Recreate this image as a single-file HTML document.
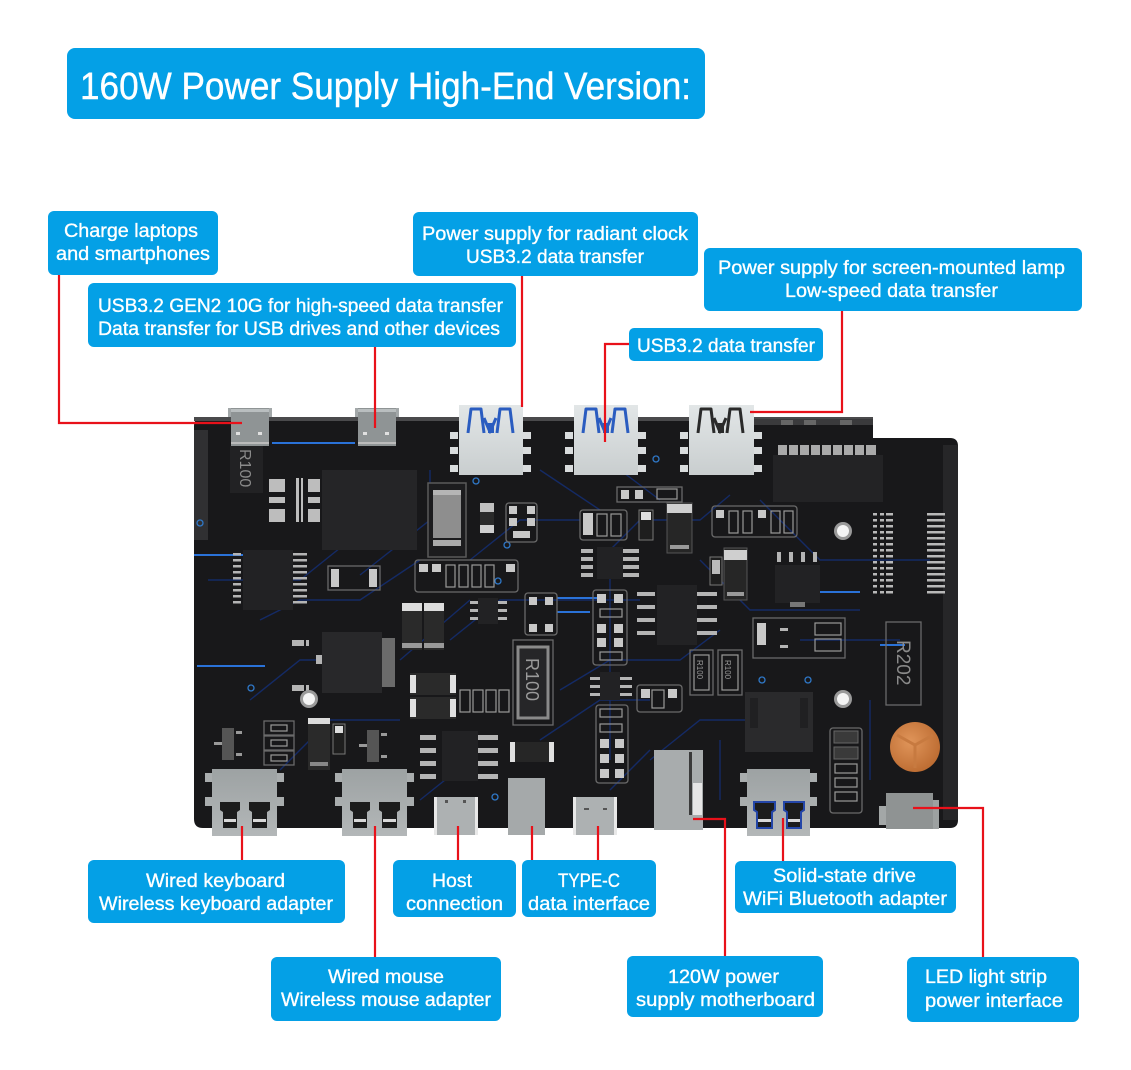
<!DOCTYPE html>
<html><head><meta charset="utf-8">
<style>html,body{margin:0;padding:0;background:#fff;}svg{display:block}</style>
</head>
<body>
<svg width="1131" height="1070" viewBox="0 0 1131 1070" xmlns="http://www.w3.org/2000/svg" font-family="'Liberation Sans', sans-serif">
<defs>
<linearGradient id="gport" x1="0" y1="0" x2="0" y2="1"><stop offset="0" stop-color="#b9bdbe"/><stop offset="1" stop-color="#969b9c"/></linearGradient>
<linearGradient id="gusba" x1="0" y1="0" x2="0" y2="1"><stop offset="0" stop-color="#e2e6e7"/><stop offset="1" stop-color="#c9cecf"/></linearGradient>
<linearGradient id="gc" x1="0" y1="0" x2="0" y2="1"><stop offset="0" stop-color="#9da2a3"/><stop offset="1" stop-color="#b3b7b8"/></linearGradient>
<radialGradient id="gcu" cx="0.4" cy="0.4" r="0.7"><stop offset="0" stop-color="#e0955a"/><stop offset="1" stop-color="#b9682e"/></radialGradient>
</defs>
<rect width="1131" height="1070" fill="#fff"/>

<!-- Title -->
<rect x="67" y="48" width="638" height="71" rx="8" fill="#04a0e6"/>
<text x="80" y="99" font-size="38" fill="#fff" stroke="#fff" stroke-width="0.4" textLength="611" lengthAdjust="spacingAndGlyphs">160W Power Supply High-End Version:</text>

<!-- ============ BOARD ============ -->
<path d="M194,426 Q194,417 203,417 L873,417 L873,438 L950,438 Q958,438 958,446 L958,820 Q958,828 950,828 L203,828 Q194,828 194,819 Z" fill="#18181a"/>
<rect x="194" y="430" width="14" height="110" fill="#303032"/>
<rect x="943" y="445" width="15" height="375" fill="#262628"/>
<rect x="194" y="417" width="679" height="4" fill="#4a4a4c"/>
<rect x="750" y="419" width="123" height="6" fill="#3a3a3c"/>
<rect x="230" y="446" width="33" height="47" fill="#222224"/>
<text transform="translate(240,449) rotate(90)" font-size="16" fill="#8a8a8a">R100</text>

<!-- blue traces -->
<g stroke="#142c6a" stroke-width="1.4" fill="none" opacity="0.95">
<path d="M208,580 L300,580 L340,548"/>
<path d="M260,620 L300,600 L360,600 L420,560"/>
<path d="M360,575 L430,520 L430,470"/>
<path d="M470,560 L520,520 L580,520"/>
<path d="M600,560 L640,520 L700,520 L730,495"/>
<path d="M560,600 L640,600"/>
<path d="M450,640 L500,600 L560,600"/>
<path d="M400,660 L470,600"/>
<path d="M560,690 L610,660 L680,660 L720,630"/>
<path d="M540,740 L600,700 L650,700"/>
<path d="M650,760 L700,720 L750,720"/>
<path d="M700,560 L750,610 L860,610"/>
<path d="M800,640 L900,640"/>
<path d="M760,500 L820,560 L930,560"/>
<path d="M620,470 L660,500"/>
<path d="M540,470 L600,510"/>
<path d="M280,770 L330,720 L400,720"/>
<path d="M420,800 L470,760"/>
<path d="M610,790 L650,750"/>
<path d="M870,700 L870,780"/>
<path d="M720,740 L720,800"/>
<path d="M250,700 L300,660 L330,660"/>
<path d="M610,560 L610,760"/>
</g>
<g stroke="#2a72d8" stroke-width="2" fill="none">
<path d="M272,443 L355,443"/>
<path d="M194,555 L245,555"/>
<path d="M197,666 L265,666"/>
<path d="M557,598 L600,598"/>
<path d="M557,612 L590,612"/>
<path d="M815,592 L860,592"/>
<path d="M880,645 L905,645"/>
</g>
<g fill="none" stroke="#2f78c8" stroke-width="1.3">
<circle cx="200" cy="523" r="3"/>
<circle cx="251" cy="688" r="3"/>
<circle cx="476" cy="481" r="3"/>
<circle cx="498" cy="581" r="3"/>
<circle cx="507" cy="545" r="3"/>
<circle cx="495" cy="797" r="3"/>
<circle cx="656" cy="459" r="3"/>
<circle cx="762" cy="680" r="3"/>
<circle cx="808" cy="680" r="3"/>
</g>

<!-- big dark parts -->
<rect x="322" y="470" width="95" height="80" fill="#252527"/>
<rect x="322" y="632" width="60" height="61" fill="#28282a"/>
<rect x="382" y="638" width="13" height="49" fill="#6b6b6b"/>
<rect x="773" y="455" width="110" height="47" fill="#232325"/>
<rect x="745" y="692" width="68" height="60" fill="#2a2a2c"/>
<rect x="750" y="698" width="8" height="30" fill="#202022"/>
<rect x="800" y="698" width="8" height="30" fill="#202022"/>

<g fill="#bdbdbd">
<rect x="269" y="479" width="16" height="13"/><rect x="269" y="497" width="16" height="6"/><rect x="269" y="509" width="16" height="13"/>
<rect x="296" y="478" width="3" height="44"/><rect x="301" y="478" width="2" height="44"/>
<rect x="308" y="479" width="12" height="13"/><rect x="308" y="497" width="12" height="6"/><rect x="308" y="509" width="12" height="13"/>
</g>

<rect x="428" y="483" width="38" height="74" fill="#1c1c1e" stroke="#5a5a5a" stroke-width="1.5"/>
<rect x="433" y="490" width="28" height="48" fill="#8e8e8e"/>
<rect x="433" y="490" width="28" height="5" fill="#b5b5b5"/>
<rect x="433" y="540" width="28" height="6" fill="#aaa"/>
<rect x="480" y="503" width="14" height="9" fill="#c0c0c0"/>
<rect x="480" y="512" width="14" height="13" fill="#2a2a2a"/>
<rect x="480" y="525" width="14" height="8" fill="#cfcfcf"/>

<g fill="none" stroke="#6a6a6a" stroke-width="1.3">
<rect x="506" y="503" width="31" height="39" rx="3"/>
<rect x="415" y="560" width="103" height="32" rx="3"/>
<rect x="328" y="566" width="52" height="24"/>
<rect x="525" y="593" width="32" height="42" rx="3"/>
<rect x="264" y="721" width="30" height="14"/><rect x="264" y="736" width="30" height="14"/><rect x="264" y="751" width="30" height="14"/>
<rect x="617" y="487" width="65" height="15"/>
<rect x="580" y="510" width="47" height="30" rx="3"/>
<rect x="712" y="506" width="85" height="31" rx="3"/>
<rect x="593" y="590" width="34" height="75" rx="3"/>
<rect x="596" y="705" width="32" height="78" rx="3"/>
<rect x="753" y="618" width="92" height="40"/>
<rect x="886" y="622" width="35" height="83"/>
<rect x="830" y="728" width="32" height="85" rx="3"/>
<rect x="637" y="685" width="45" height="27" rx="3"/>
<rect x="513" y="640" width="40" height="85"/>
<rect x="690" y="650" width="23" height="45"/><rect x="718" y="650" width="24" height="45"/>
</g>
<g fill="#c8c8c8">
<rect x="509" y="506" width="8" height="8"/><rect x="527" y="506" width="8" height="8"/>
<rect x="509" y="518" width="8" height="8"/><rect x="527" y="518" width="8" height="8"/>
<rect x="513" y="531" width="17" height="7"/>
<rect x="331" y="569" width="8" height="18"/><rect x="369" y="569" width="8" height="18"/>
<rect x="419" y="564" width="9" height="8"/><rect x="432" y="564" width="9" height="8"/><rect x="506" y="564" width="9" height="8"/>
<rect x="529" y="597" width="8" height="8"/><rect x="545" y="597" width="8" height="8"/>
<rect x="529" y="624" width="8" height="8"/><rect x="545" y="624" width="8" height="8"/>
<rect x="621" y="490" width="8" height="9"/><rect x="635" y="490" width="8" height="9"/>
<rect x="583" y="513" width="10" height="22"/>
<rect x="716" y="510" width="8" height="8"/><rect x="758" y="510" width="8" height="8"/>
<rect x="597" y="594" width="9" height="9"/><rect x="614" y="594" width="9" height="9"/>
<rect x="597" y="624" width="9" height="9"/><rect x="614" y="624" width="9" height="9"/>
<rect x="597" y="638" width="9" height="9"/><rect x="614" y="638" width="9" height="9"/>
<rect x="600" y="739" width="9" height="9"/><rect x="615" y="739" width="9" height="9"/>
<rect x="600" y="754" width="9" height="9"/><rect x="615" y="754" width="9" height="9"/>
<rect x="600" y="769" width="9" height="9"/><rect x="615" y="769" width="9" height="9"/>
<rect x="834" y="731" width="24" height="6"/><rect x="834" y="747" width="24" height="6"/>
<rect x="641" y="689" width="9" height="9"/><rect x="668" y="689" width="9" height="9"/>
<rect x="757" y="623" width="9" height="22"/>
</g>
<g fill="none" stroke="#9a9a9a" stroke-width="1.2">
<rect x="446" y="565" width="9" height="22"/><rect x="459" y="565" width="9" height="22"/><rect x="472" y="565" width="9" height="22"/><rect x="485" y="565" width="9" height="22"/>
<rect x="271" y="725" width="16" height="6"/><rect x="271" y="740" width="16" height="6"/><rect x="271" y="755" width="16" height="6"/>
<rect x="657" y="489" width="20" height="10"/>
<rect x="597" y="514" width="10" height="22"/><rect x="611" y="514" width="10" height="22"/>
<rect x="729" y="511" width="9" height="22"/><rect x="743" y="511" width="9" height="22"/><rect x="771" y="511" width="9" height="22"/><rect x="784" y="511" width="9" height="22"/>
<rect x="600" y="609" width="22" height="8"/><rect x="600" y="652" width="22" height="8"/>
<rect x="600" y="709" width="22" height="8"/><rect x="600" y="724" width="22" height="8"/>
<rect x="815" y="623" width="26" height="12"/><rect x="815" y="639" width="26" height="12"/>
<rect x="835" y="764" width="22" height="9"/><rect x="835" y="778" width="22" height="9"/><rect x="835" y="792" width="22" height="9"/>
<rect x="652" y="690" width="12" height="18"/>
<rect x="460" y="690" width="10" height="22"/><rect x="473" y="690" width="10" height="22"/><rect x="486" y="690" width="10" height="22"/><rect x="499" y="690" width="10" height="22"/>
<rect x="694" y="655" width="15" height="35"/><rect x="722" y="655" width="16" height="35"/>
</g>
<rect x="518" y="647" width="30" height="71" fill="#262628" stroke="#8a8a8a" stroke-width="3"/>
<text transform="translate(526,658) rotate(90)" font-size="18" fill="#9a9a9a">R100</text>
<text transform="translate(697,660) rotate(90)" font-size="8" fill="#999">R100</text>
<text transform="translate(725,660) rotate(90)" font-size="8" fill="#999">R100</text>
<text transform="translate(897,640) rotate(90)" font-size="19" fill="#8a8a8a">R202</text>

<g fill="#b4b4b4">
<rect x="233" y="553" width="8" height="2.5"/><rect x="233" y="559" width="8" height="2.5"/><rect x="233" y="565" width="8" height="2.5"/><rect x="233" y="571" width="8" height="2.5"/><rect x="233" y="577" width="8" height="2.5"/><rect x="233" y="583" width="8" height="2.5"/><rect x="233" y="589" width="8" height="2.5"/><rect x="233" y="595" width="8" height="2.5"/><rect x="233" y="601" width="8" height="2.5"/>
<rect x="293" y="553" width="14" height="2.5"/><rect x="293" y="559" width="14" height="2.5"/><rect x="293" y="565" width="14" height="2.5"/><rect x="293" y="571" width="14" height="2.5"/><rect x="293" y="577" width="14" height="2.5"/><rect x="293" y="583" width="14" height="2.5"/><rect x="293" y="589" width="14" height="2.5"/><rect x="293" y="595" width="14" height="2.5"/><rect x="293" y="601" width="14" height="2.5"/>
<rect x="292" y="640" width="12" height="6"/><rect x="306" y="640" width="3" height="6"/><rect x="292" y="685" width="12" height="6"/><rect x="306" y="685" width="3" height="6"/><rect x="316" y="655" width="6" height="9"/>
<rect x="420" y="735" width="16" height="5"/><rect x="420" y="748" width="16" height="5"/><rect x="420" y="761" width="16" height="5"/><rect x="420" y="774" width="16" height="5"/>
<rect x="478" y="735" width="20" height="5"/><rect x="478" y="748" width="20" height="5"/><rect x="478" y="761" width="20" height="5"/><rect x="478" y="774" width="20" height="5"/>
<rect x="470" y="601" width="8" height="3"/><rect x="470" y="609" width="8" height="3"/><rect x="470" y="617" width="8" height="3"/>
<rect x="497" y="601" width="10" height="3"/><rect x="497" y="609" width="10" height="3"/><rect x="497" y="617" width="10" height="3"/>
<rect x="581" y="549" width="12" height="4"/><rect x="581" y="557" width="12" height="4"/><rect x="581" y="565" width="12" height="4"/><rect x="581" y="573" width="12" height="4"/>
<rect x="623" y="549" width="16" height="4"/><rect x="623" y="557" width="16" height="4"/><rect x="623" y="565" width="16" height="4"/><rect x="623" y="573" width="16" height="4"/>
<rect x="637" y="592" width="18" height="4"/><rect x="637" y="605" width="18" height="4"/><rect x="637" y="618" width="18" height="4"/><rect x="637" y="631" width="18" height="4"/>
<rect x="697" y="592" width="20" height="4"/><rect x="697" y="605" width="20" height="4"/><rect x="697" y="618" width="20" height="4"/><rect x="697" y="631" width="20" height="4"/>
<rect x="590" y="677" width="10" height="3"/><rect x="590" y="685" width="10" height="3"/><rect x="590" y="693" width="10" height="3"/>
<rect x="620" y="677" width="12" height="3"/><rect x="620" y="685" width="12" height="3"/><rect x="620" y="693" width="12" height="3"/>
<rect x="777" y="552" width="4" height="10"/><rect x="789" y="552" width="4" height="10"/><rect x="801" y="552" width="4" height="10"/><rect x="813" y="552" width="4" height="10"/>
<rect x="780" y="628" width="8" height="3"/><rect x="780" y="645" width="8" height="3"/>
</g>
<g fill="#222224">
<rect x="243" y="550" width="50" height="60"/>
<rect x="442" y="731" width="36" height="50"/>
<rect x="478" y="598" width="20" height="26"/>
<rect x="597" y="547" width="26" height="32"/>
<rect x="657" y="585" width="40" height="60"/>
<rect x="775" y="565" width="45" height="38"/>
<rect x="600" y="672" width="20" height="28"/>
</g>
<g fill="#b8b8b8">
<rect x="873" y="513" width="4" height="2.5"/><rect x="880" y="513" width="4" height="2.5"/><rect x="886" y="513" width="7" height="2.5"/><rect x="927" y="513" width="18" height="2.5"/>
<rect x="873" y="519" width="4" height="2.5"/><rect x="880" y="519" width="4" height="2.5"/><rect x="886" y="519" width="7" height="2.5"/><rect x="927" y="519" width="18" height="2.5"/>
<rect x="873" y="525" width="4" height="2.5"/><rect x="880" y="525" width="4" height="2.5"/><rect x="886" y="525" width="7" height="2.5"/><rect x="927" y="525" width="18" height="2.5"/>
<rect x="873" y="531" width="4" height="2.5"/><rect x="880" y="531" width="4" height="2.5"/><rect x="886" y="531" width="7" height="2.5"/><rect x="927" y="531" width="18" height="2.5"/>
<rect x="873" y="537" width="4" height="2.5"/><rect x="880" y="537" width="4" height="2.5"/><rect x="886" y="537" width="7" height="2.5"/><rect x="927" y="537" width="18" height="2.5"/>
<rect x="873" y="543" width="4" height="2.5"/><rect x="880" y="543" width="4" height="2.5"/><rect x="886" y="543" width="7" height="2.5"/><rect x="927" y="543" width="18" height="2.5"/>
<rect x="873" y="549" width="4" height="2.5"/><rect x="880" y="549" width="4" height="2.5"/><rect x="886" y="549" width="7" height="2.5"/><rect x="927" y="549" width="18" height="2.5"/>
<rect x="873" y="555" width="4" height="2.5"/><rect x="880" y="555" width="4" height="2.5"/><rect x="886" y="555" width="7" height="2.5"/><rect x="927" y="555" width="18" height="2.5"/>
<rect x="873" y="561" width="4" height="2.5"/><rect x="880" y="561" width="4" height="2.5"/><rect x="886" y="561" width="7" height="2.5"/><rect x="927" y="561" width="18" height="2.5"/>
<rect x="873" y="567" width="4" height="2.5"/><rect x="880" y="567" width="4" height="2.5"/><rect x="886" y="567" width="7" height="2.5"/><rect x="927" y="567" width="18" height="2.5"/>
<rect x="873" y="573" width="4" height="2.5"/><rect x="880" y="573" width="4" height="2.5"/><rect x="886" y="573" width="7" height="2.5"/><rect x="927" y="573" width="18" height="2.5"/>
<rect x="873" y="579" width="4" height="2.5"/><rect x="880" y="579" width="4" height="2.5"/><rect x="886" y="579" width="7" height="2.5"/><rect x="927" y="579" width="18" height="2.5"/>
<rect x="873" y="585" width="4" height="2.5"/><rect x="880" y="585" width="4" height="2.5"/><rect x="886" y="585" width="7" height="2.5"/><rect x="927" y="585" width="18" height="2.5"/>
<rect x="873" y="591" width="4" height="2.5"/><rect x="880" y="591" width="4" height="2.5"/><rect x="886" y="591" width="7" height="2.5"/><rect x="927" y="591" width="18" height="2.5"/>
</g>
<g fill="#a9a9a9">
<rect x="778" y="445" width="9" height="10"/><rect x="789" y="445" width="9" height="10"/><rect x="800" y="445" width="9" height="10"/><rect x="811" y="445" width="9" height="10"/><rect x="822" y="445" width="9" height="10"/><rect x="833" y="445" width="9" height="10"/><rect x="844" y="445" width="9" height="10"/><rect x="855" y="445" width="9" height="10"/><rect x="866" y="445" width="10" height="10"/>
</g>
<g fill="#666">
<rect x="781" y="420" width="12" height="5"/><rect x="804" y="420" width="12" height="5"/><rect x="840" y="420" width="12" height="5"/>
</g>

<g>
<rect x="402" y="603" width="20" height="47" fill="#2a2a2a"/><rect x="402" y="603" width="20" height="8" fill="#dcdcdc"/><rect x="402" y="643" width="20" height="5" fill="#999"/>
<rect x="424" y="603" width="20" height="47" fill="#2a2a2a"/><rect x="424" y="603" width="20" height="8" fill="#dcdcdc"/><rect x="424" y="643" width="20" height="5" fill="#999"/>
<rect x="410" y="673" width="46" height="22" fill="#2a2a2a"/><rect x="410" y="675" width="6" height="18" fill="#e0e0e0"/><rect x="450" y="675" width="6" height="18" fill="#e0e0e0"/>
<rect x="410" y="697" width="46" height="22" fill="#2a2a2a"/><rect x="410" y="699" width="6" height="18" fill="#e0e0e0"/><rect x="450" y="699" width="6" height="18" fill="#e0e0e0"/>
<rect x="308" y="718" width="22" height="52" fill="#2a2a2a"/><rect x="308" y="718" width="22" height="6" fill="#dcdcdc"/><rect x="310" y="762" width="18" height="4" fill="#888"/>
<rect x="333" y="724" width="12" height="30" fill="#1e1e1e" stroke="#777"/><rect x="335" y="726" width="8" height="7" fill="#ddd"/>
<rect x="510" y="742" width="44" height="20" fill="#262626"/><rect x="510" y="742" width="5" height="20" fill="#e0e0e0"/><rect x="549" y="742" width="5" height="20" fill="#e0e0e0"/>
<rect x="222" y="728" width="12" height="32" fill="#555"/><rect x="214" y="742" width="8" height="3" fill="#999"/><rect x="236" y="731" width="6" height="3" fill="#999"/><rect x="236" y="753" width="6" height="3" fill="#999"/>
<rect x="367" y="730" width="12" height="32" fill="#555"/><rect x="359" y="744" width="8" height="3" fill="#999"/><rect x="381" y="733" width="6" height="3" fill="#999"/><rect x="381" y="755" width="6" height="3" fill="#999"/>
<rect x="639" y="510" width="14" height="30" fill="#1e1e1e" stroke="#777"/><rect x="641" y="512" width="10" height="8" fill="#ddd"/>
<rect x="667" y="503" width="25" height="50" fill="#262626" stroke="#555"/><rect x="667" y="504" width="25" height="9" fill="#cfcfcf"/><rect x="670" y="545" width="19" height="4" fill="#999"/>
<rect x="710" y="557" width="12" height="28" fill="#1e1e1e" stroke="#777"/><rect x="712" y="560" width="8" height="14" fill="#bbb"/>
<rect x="724" y="548" width="23" height="52" fill="#262626" stroke="#555"/><rect x="724" y="550" width="23" height="10" fill="#cfcfcf"/><rect x="727" y="592" width="17" height="4" fill="#999"/>
<rect x="790" y="602" width="15" height="5" fill="#777"/>
<rect x="834" y="731" width="24" height="12" fill="#3a3a3a" stroke="#666"/><rect x="834" y="747" width="24" height="12" fill="#3a3a3a" stroke="#666"/>
</g>

<g>
<circle cx="309" cy="699" r="9" fill="#9a9a9a"/><circle cx="309" cy="699" r="6" fill="#f4f4f4"/>
<circle cx="843" cy="531" r="9" fill="#9a9a9a"/><circle cx="843" cy="531" r="6" fill="#f4f4f4"/>
<circle cx="843" cy="699" r="9" fill="#9a9a9a"/><circle cx="843" cy="699" r="6" fill="#f4f4f4"/>
</g>
<circle cx="915" cy="747" r="25" fill="url(#gcu)"/>
<path d="M897,735 L915,745 L933,735 M915,745 L915,768" stroke="#c77a40" stroke-width="3" fill="none"/>

<!-- TOP PORTS -->
<g>
<rect x="228" y="408" width="44" height="9" fill="#a3a8a9"/>
<rect x="231" y="408" width="38" height="38" fill="#8f9495"/>
<rect x="231" y="409" width="38" height="3" fill="#b9bebf"/>
<rect x="236" y="432" width="4" height="3" fill="#e0e0e0"/><rect x="258" y="432" width="4" height="3" fill="#e0e0e0"/>
<rect x="231" y="442" width="38" height="2" fill="#bbb"/>
<rect x="355" y="408" width="44" height="9" fill="#a3a8a9"/>
<rect x="358" y="408" width="38" height="38" fill="#8f9495"/>
<rect x="358" y="409" width="38" height="3" fill="#b9bebf"/>
<rect x="363" y="432" width="4" height="3" fill="#e0e0e0"/><rect x="385" y="432" width="4" height="3" fill="#e0e0e0"/>
<rect x="358" y="442" width="38" height="2" fill="#bbb"/>
</g>
<g fill="#d9dcdd">
<rect x="450" y="432" width="8" height="7"/><rect x="450" y="447" width="8" height="7"/><rect x="450" y="465" width="8" height="7"/>
<rect x="523" y="432" width="8" height="7"/><rect x="523" y="447" width="8" height="7"/><rect x="523" y="465" width="8" height="7"/>
<rect x="565" y="432" width="8" height="7"/><rect x="565" y="447" width="8" height="7"/><rect x="565" y="465" width="8" height="7"/>
<rect x="638" y="432" width="8" height="7"/><rect x="638" y="447" width="8" height="7"/><rect x="638" y="465" width="8" height="7"/>
<rect x="680" y="432" width="8" height="7"/><rect x="680" y="447" width="8" height="7"/><rect x="680" y="465" width="8" height="7"/>
<rect x="754" y="432" width="8" height="7"/><rect x="754" y="447" width="8" height="7"/><rect x="754" y="465" width="8" height="7"/>
</g>
<rect x="459" y="405" width="64" height="70" fill="url(#gusba)"/>
<rect x="574" y="405" width="64" height="70" fill="url(#gusba)"/>
<rect x="689" y="405" width="65" height="70" fill="url(#gusba)"/>
<g fill="none" stroke-width="3" stroke-linejoin="round">
<path d="M468,433 L471,409 L481,409 L484,433 M484,418 L490,432 L496,418 M497,433 L500,409 L510,409 L513,433" stroke="#2a5cc0"/>
<path d="M583,433 L586,409 L596,409 L599,433 M599,418 L605,432 L611,418 M612,433 L615,409 L625,409 L628,433" stroke="#2a5cc0"/>
<path d="M698,433 L701,409 L711,409 L714,433 M714,418 L720,432 L726,418 M727,433 L730,409 L740,409 L743,433" stroke="#2a2a2a"/>
</g>
<rect x="488" y="423" width="6" height="10" fill="#2a5cc0"/>
<rect x="603" y="423" width="6" height="10" fill="#2a5cc0"/>
<rect x="718" y="423" width="6" height="10" fill="#2a2a2a"/>

<!-- BOTTOM PORTS -->
<g fill="#a9adae">
<rect x="205" y="773" width="7" height="9"/><rect x="205" y="797" width="7" height="9"/><rect x="277" y="773" width="7" height="9"/><rect x="277" y="797" width="7" height="9"/>
<rect x="335" y="773" width="7" height="9"/><rect x="335" y="797" width="7" height="9"/><rect x="407" y="773" width="7" height="9"/><rect x="407" y="797" width="7" height="9"/>
<rect x="740" y="773" width="7" height="9"/><rect x="740" y="797" width="7" height="9"/><rect x="810" y="773" width="7" height="9"/><rect x="810" y="797" width="7" height="9"/>
</g>
<rect x="212" y="769" width="65" height="67" fill="url(#gc)"/>
<rect x="342" y="769" width="65" height="67" fill="url(#gc)"/>
<rect x="747" y="769" width="63" height="67" fill="url(#gc)"/>
<g fill="#1c1c1c">
<path d="M220,802 L240,802 L240,810 L237,812 L237,828 L223,828 L223,812 L220,810 Z"/>
<path d="M249,802 L270,802 L270,810 L267,812 L267,828 L252,828 L252,812 L249,810 Z"/>
<path d="M350,802 L370,802 L370,810 L367,812 L367,828 L353,828 L353,812 L350,810 Z"/>
<path d="M379,802 L400,802 L400,810 L397,812 L397,828 L382,828 L382,812 L379,810 Z"/>
</g>
<g fill="#1c1c1c" stroke="#2446a8" stroke-width="2">
<path d="M754,802 L775,802 L775,810 L772,812 L772,828 L757,828 L757,812 L754,810 Z"/>
<path d="M784,802 L804,802 L804,810 L801,812 L801,828 L787,828 L787,812 L784,810 Z"/>
</g>
<g fill="#d8d8d8">
<rect x="224" y="819" width="12" height="3"/><rect x="253" y="819" width="13" height="3"/>
<rect x="354" y="819" width="12" height="3"/><rect x="383" y="819" width="13" height="3"/>
<rect x="758" y="819" width="13" height="3"/><rect x="788" y="819" width="12" height="3"/>
</g>
<rect x="434" y="797" width="44" height="38" fill="#adb1b2"/>
<rect x="434" y="797" width="3" height="38" fill="#e8e8e8"/><rect x="475" y="797" width="3" height="38" fill="#e8e8e8"/>
<rect x="445" y="800" width="3" height="3" fill="#555"/><rect x="463" y="800" width="3" height="3" fill="#555"/>
<rect x="573" y="797" width="44" height="38" fill="#adb1b2"/>
<rect x="573" y="797" width="3" height="38" fill="#e8e8e8"/><rect x="614" y="797" width="3" height="38" fill="#e8e8e8"/>
<rect x="584" y="808" width="5" height="2" fill="#555"/><rect x="603" y="808" width="4" height="2" fill="#555"/>
<rect x="508" y="778" width="37" height="57" fill="#a5a9aa"/>
<rect x="654" y="750" width="49" height="80" fill="#a8acad"/>
<rect x="689" y="752" width="3" height="63" fill="#3a3a3a"/>
<rect x="693" y="783" width="9" height="32" fill="#e6e6e6"/>
<rect x="886" y="793" width="47" height="36" fill="#8f9393"/>
<rect x="879" y="806" width="7" height="19" fill="#a3a7a7"/>
<rect x="933" y="800" width="6" height="29" fill="#9da1a1"/>

<!-- RED CONNECTORS -->
<g stroke="#e8111a" stroke-width="2.2" fill="none">
<path d="M59,275 L59,423 L242,423"/>
<path d="M375,347 L375,428"/>
<path d="M522,276 L522,407"/>
<path d="M629,344 L605,344 L605,442"/>
<path d="M842,311 L842,412 L750,412"/>
<path d="M242,826 L242,860"/>
<path d="M375,826 L375,957"/>
<path d="M458,826 L458,860"/>
<path d="M532,826 L532,860"/>
<path d="M598,826 L598,860"/>
<path d="M693,819 L725,819 L725,956"/>
<path d="M783,818 L783,861"/>
<path d="M913,808 L983,808 L983,957"/>
</g>

<!-- LABEL BOXES -->
<g fill="#04a0e6">
<rect x="48" y="211" width="170" height="64" rx="6"/>
<rect x="88" y="283" width="428" height="64" rx="6"/>
<rect x="413" y="212" width="285" height="64" rx="6"/>
<rect x="704" y="248" width="378" height="63" rx="6"/>
<rect x="629" y="328" width="194" height="33" rx="5"/>
<rect x="88" y="860" width="257" height="63" rx="6"/>
<rect x="393" y="860" width="123" height="57" rx="6"/>
<rect x="522" y="860" width="134" height="57" rx="6"/>
<rect x="271" y="957" width="230" height="64" rx="6"/>
<rect x="735" y="861" width="221" height="52" rx="6"/>
<rect x="627" y="956" width="196" height="61" rx="6"/>
<rect x="907" y="957" width="172" height="65" rx="6"/>
</g>
<g fill="#fff" stroke="#fff" stroke-width="0.35" font-size="19.5">
<text x="64" y="237" textLength="134" lengthAdjust="spacingAndGlyphs">Charge laptops</text>
<text x="56" y="260" textLength="154" lengthAdjust="spacingAndGlyphs">and smartphones</text>
<text x="98" y="312" textLength="405" lengthAdjust="spacingAndGlyphs">USB3.2 GEN2 10G for high-speed data transfer</text>
<text x="98" y="335" textLength="402" lengthAdjust="spacingAndGlyphs">Data transfer for USB drives and other devices</text>
<text x="422" y="240" textLength="266" lengthAdjust="spacingAndGlyphs">Power supply for radiant clock</text>
<text x="466" y="263" textLength="178" lengthAdjust="spacingAndGlyphs">USB3.2 data transfer</text>
<text x="718" y="274" textLength="347" lengthAdjust="spacingAndGlyphs">Power supply for screen-mounted lamp</text>
<text x="785" y="297" textLength="213" lengthAdjust="spacingAndGlyphs">Low-speed data transfer</text>
<text x="637" y="352" textLength="178" lengthAdjust="spacingAndGlyphs">USB3.2 data transfer</text>
<text x="146" y="887" textLength="139" lengthAdjust="spacingAndGlyphs">Wired keyboard</text>
<text x="99" y="910" textLength="234" lengthAdjust="spacingAndGlyphs">Wireless keyboard adapter</text>
<text x="432" y="887" textLength="40" lengthAdjust="spacingAndGlyphs">Host</text>
<text x="406" y="910" textLength="97" lengthAdjust="spacingAndGlyphs">connection</text>
<text x="558" y="887" textLength="62" lengthAdjust="spacingAndGlyphs">TYPE-C</text>
<text x="528" y="910" textLength="122" lengthAdjust="spacingAndGlyphs">data interface</text>
<text x="328" y="983" textLength="116" lengthAdjust="spacingAndGlyphs">Wired mouse</text>
<text x="281" y="1006" textLength="210" lengthAdjust="spacingAndGlyphs">Wireless mouse adapter</text>
<text x="773" y="882" textLength="143" lengthAdjust="spacingAndGlyphs">Solid-state drive</text>
<text x="743" y="905" textLength="204" lengthAdjust="spacingAndGlyphs">WiFi Bluetooth adapter</text>
<text x="668" y="983" textLength="111" lengthAdjust="spacingAndGlyphs">120W power</text>
<text x="636" y="1006" textLength="179" lengthAdjust="spacingAndGlyphs">supply motherboard</text>
<text x="925" y="983" textLength="122" lengthAdjust="spacingAndGlyphs">LED light strip</text>
<text x="925" y="1007" textLength="138" lengthAdjust="spacingAndGlyphs">power interface</text>
</g>
</svg>
</body></html>
